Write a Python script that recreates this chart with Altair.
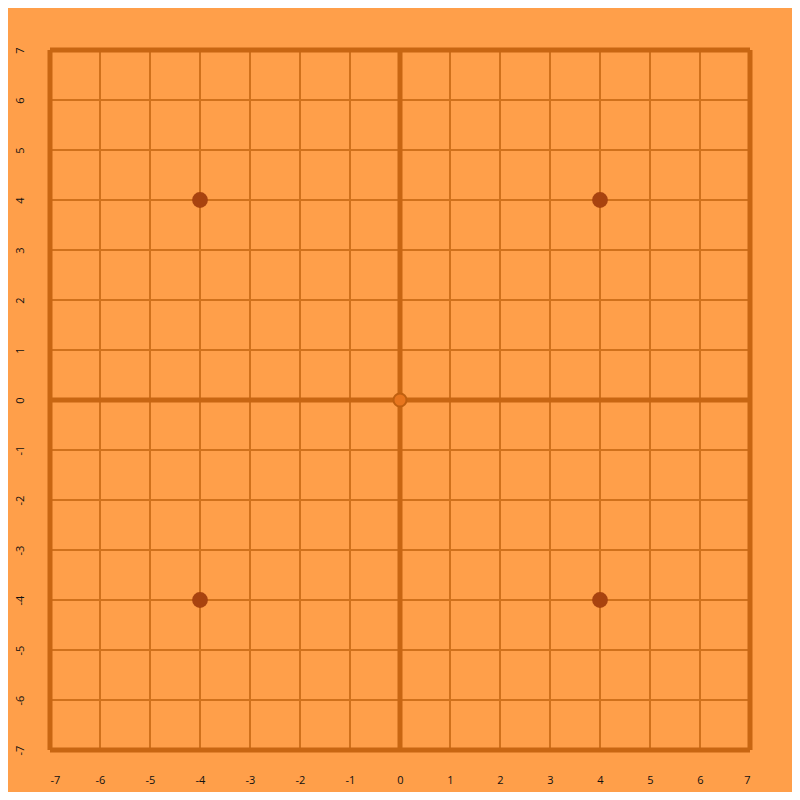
import altair as alt
import pandas as pd

# Data
tick_values = list(range(-7, 8))
grid_values = list(range(-6, 7))
heavy_values = [-7, 0, 7]
star_x = [-4, 4, -4, 4]
star_y = [4, 4, -4, -4]
center_x = [0]
center_y = [0]

BG = "#FF9F4A"
GRID = "#D0711C"
HEAVY = "#C86612"
STAR = "#A8430F"

grid_df = pd.DataFrame({"v": grid_values})
heavy_df = pd.DataFrame({"v": heavy_values})
star_df = pd.DataFrame({"x": star_x, "y": star_y})
center_df = pd.DataFrame({"x": center_x, "y": center_y})

xscale = alt.Scale(domain=[-7, 7], nice=False, zero=False)
yscale = alt.Scale(domain=[-7, 7], nice=False, zero=False)

label_expr = "'' + datum.value"

xaxis = alt.Axis(values=tick_values, grid=False, ticks=False, domain=False,
                 labelPadding=24, labelFontSize=11, labelColor="#111111",
                 labelFont="Open Sans", title=None, labelExpr=label_expr)
yaxis = alt.Axis(values=tick_values, grid=False, ticks=False, domain=False,
                 labelPadding=30, labelFontSize=11, labelColor="#111111",
                 labelFont="Open Sans", title=None, labelAngle=270,
                 labelAlign="center", labelBaseline="middle", labelExpr=label_expr)

vgrid = alt.Chart(grid_df).mark_rule(color=GRID, strokeWidth=2).encode(
    x=alt.X("v:Q", scale=xscale, axis=xaxis)
)
hgrid = alt.Chart(grid_df).mark_rule(color=GRID, strokeWidth=2).encode(
    y=alt.Y("v:Q", scale=yscale, axis=yaxis)
)
vheavy = alt.Chart(heavy_df).mark_rule(color=HEAVY, strokeWidth=5).encode(
    x=alt.X("v:Q", scale=xscale, axis=xaxis)
)
hheavy = alt.Chart(heavy_df).mark_rule(color=HEAVY, strokeWidth=5).encode(
    y=alt.Y("v:Q", scale=yscale, axis=yaxis)
)
stars = alt.Chart(star_df).mark_circle(size=250, color=STAR, opacity=1).encode(
    x=alt.X("x:Q", scale=xscale, axis=xaxis),
    y=alt.Y("y:Q", scale=yscale, axis=yaxis),
)
center = alt.Chart(center_df).mark_point(
    size=170, filled=True, fill="#E8761E", stroke="#C06010", strokeWidth=2, opacity=1, shape="circle"
).encode(
    x=alt.X("x:Q", scale=xscale, axis=xaxis),
    y=alt.Y("y:Q", scale=yscale, axis=yaxis),
)

chart = alt.layer(vgrid, hgrid, vheavy, hheavy, stars, center).properties(
    width=700, height=700,
    background=BG,
    padding={"left": 42, "top": 42, "right": 42, "bottom": 42},
    autosize=alt.AutoSizeParams(type="none"),
).configure_view(stroke=None, fill=BG)

chart.save("out.html", embed_options={"renderer": "svg", "actions": False})
